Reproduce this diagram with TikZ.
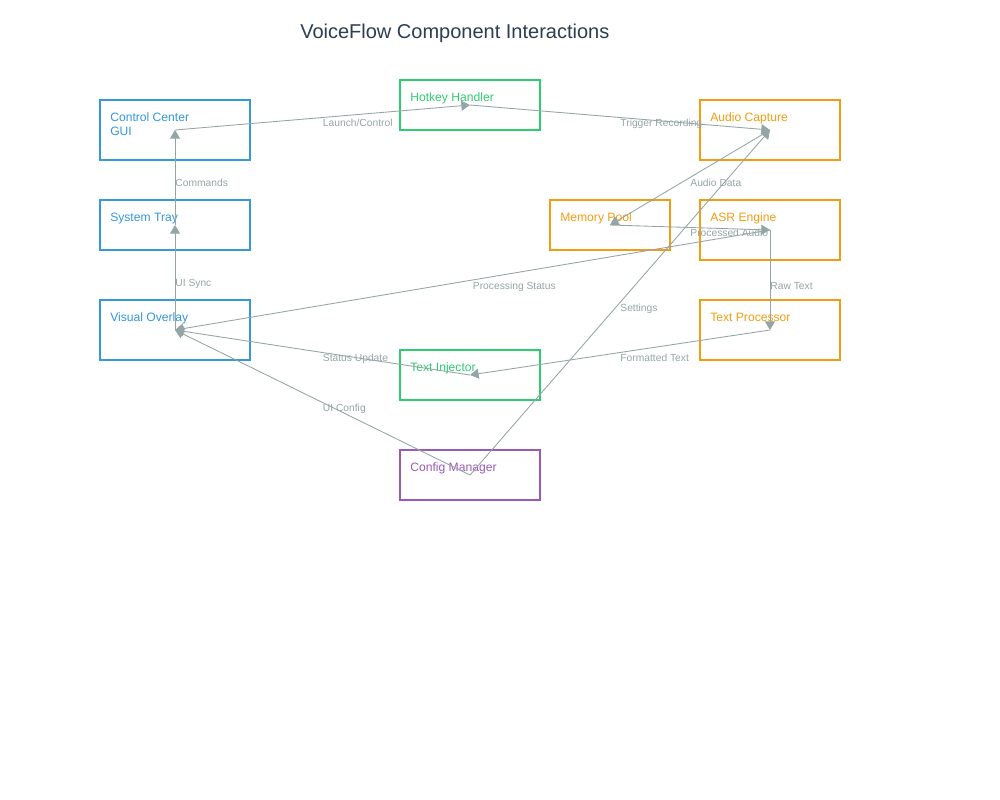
\documentclass[tikz,border=0pt]{standalone}
\usepackage{fontspec}
\setmainfont{Liberation Sans}
\usetikzlibrary{arrows.meta}
\definecolor{cblue}{HTML}{3498DB}
\definecolor{cgreen}{HTML}{2ECC71}
\definecolor{corange}{HTML}{F39C12}
\definecolor{cpurple}{HTML}{9B59B6}
\definecolor{cgray}{HTML}{95A5A6}
\definecolor{ctitle}{HTML}{2C3E50}
\begin{document}
\begin{tikzpicture}[x=0.75pt,y=-0.75pt,
  box/.style={draw=#1, line width=1.5pt, rectangle, inner sep=0pt},
  wide/.style={minimum width=112.5pt},
  norm/.style={minimum width=105pt},
  narrow/.style={minimum width=90pt},
  tall/.style={minimum height=45pt},
  short/.style={minimum height=37.5pt},
  btxt/.style={text=#1, font=\fontsize{9.1pt}{10.5pt}\selectfont, anchor=base west, inner sep=0pt},
  conn/.style={draw=cgray, line width=0.65pt, -{Triangle[length=6.5pt,width=7.5pt]}},
  lbl/.style={text=cgray, font=\fontsize{7.7pt}{9pt}\selectfont, anchor=base west, inner sep=0pt, pos=0.5, yshift=-6.9pt}
]
\useasboundingbox[fill=white] (0,0) rectangle (1000,800);

\node[text=ctitle, font=\fontsize{15pt}{18pt}\selectfont, anchor=base west, inner sep=0pt] (title) at (300,38.5) {VoiceFlow Component Interactions};

% boxes
\node[box=cblue, wide, tall] (gui) at (175,130) {};
\node[box=cgreen, norm, short] (hotkey) at (470,105) {};
\node[box=corange, norm, tall] (audio) at (770,130) {};
\node[box=cblue, wide, short] (tray) at (175,225) {};
\node[box=corange, narrow, short] (mem) at (610,225) {};
\node[box=corange, norm, tall] (asr) at (770,230) {};
\node[box=cblue, wide, tall] (overlay) at (175,330) {};
\node[box=corange, norm, tall] (textproc) at (770,330) {};
\node[box=cgreen, norm, short] (injector) at (470,375) {};
\node[box=cpurple, norm, short] (config) at (470,475) {};

% box texts
\node[btxt=cblue] (gui-t1) at (110,121) {Control Center};
\node[btxt=cblue] (gui-t2) at (110,135.5) {GUI};
\node[btxt=cgreen] (hotkey-t) at (410,101) {Hotkey Handler};
\node[btxt=corange] (audio-t) at (710,121) {Audio Capture};
\node[btxt=cblue] (tray-t) at (110,221) {System Tray};
\node[btxt=corange] (mem-t) at (560,221) {Memory Pool};
\node[btxt=corange] (asr-t) at (710,221) {ASR Engine};
\node[btxt=cblue] (overlay-t) at (110,321) {Visual Overlay};
\node[btxt=corange] (textproc-t) at (710,321) {Text Processor};
\node[btxt=cgreen] (injector-t) at (410,371) {Text Injector};
\node[btxt=cpurple] (config-t) at (410,471) {Config Manager};

% connectors
\draw[conn] (gui.center) -- node[lbl] (l1) {Launch/Control} (hotkey.center);
\draw[conn] (hotkey.center) -- node[lbl] (l2) {Trigger Recording} (audio.center);
\draw[conn] (tray.center) -- node[lbl] (l3) {Commands} (gui.center);
\draw[conn] (overlay.center) -- node[lbl] (l4) {UI Sync} (tray.center);
\draw[conn] (audio.center) -- node[lbl] (l5) {Audio Data} (mem.center);
\draw[conn] (mem.center) -- node[lbl] (l6) {Processed Audio} (asr.center);
\draw[conn] (asr.center) -- node[lbl] (l7) {Raw Text} (textproc.center);
\draw[conn] (textproc.center) -- node[lbl] (l8) {Formatted Text} (injector.center);
\draw[conn] (injector.center) -- node[lbl] (l9) {Status Update} (overlay.center);
\draw[conn] (asr.center) -- node[lbl] (l10) {Processing Status} (overlay.center);
\draw[conn] (config.center) -- node[lbl] (l11) {Settings} (audio.center);
\draw[conn] (config.center) -- node[lbl] (l12) {UI Config} (overlay.center);
\end{tikzpicture}
\end{document}
